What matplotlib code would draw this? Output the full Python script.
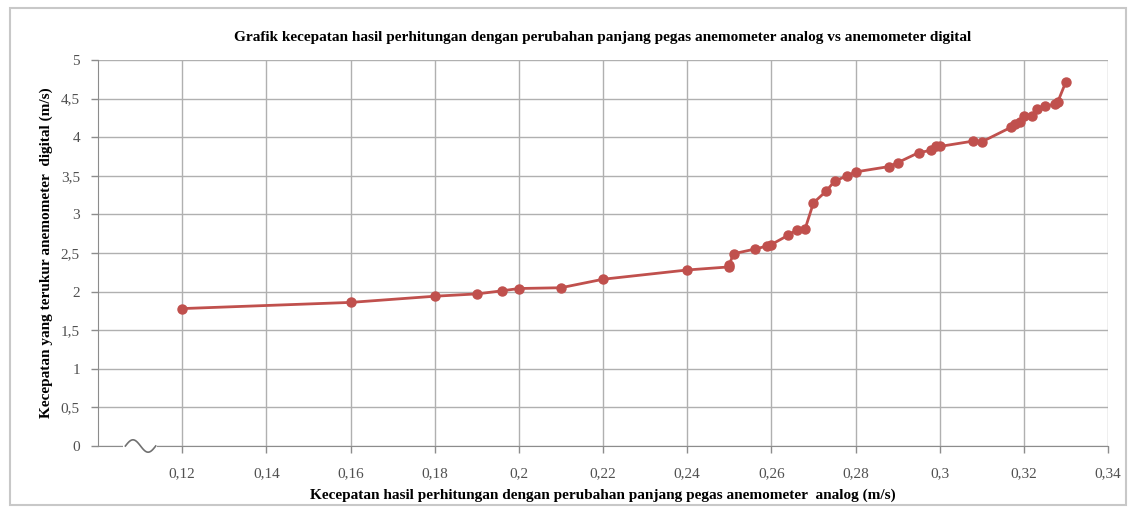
import numpy as np
import matplotlib.pyplot as plt
from matplotlib.patches import Rectangle

# analog (x) vs digital (y) wind speed, m/s
analog = [0.12, 0.16, 0.18, 0.19, 0.196, 0.20, 0.21, 0.22, 0.24, 0.25, 0.25,
          0.251, 0.256, 0.259, 0.260, 0.264, 0.266, 0.268, 0.270, 0.273, 0.275,
          0.278, 0.280, 0.288, 0.290, 0.295, 0.298, 0.299, 0.300, 0.308, 0.310,
          0.317, 0.318, 0.319, 0.320, 0.322, 0.323, 0.325, 0.3275, 0.328, 0.330]
digital = [1.78, 1.86, 1.94, 1.97, 2.01, 2.04, 2.05, 2.16, 2.28, 2.32, 2.35,
           2.49, 2.55, 2.59, 2.61, 2.73, 2.80, 2.81, 3.15, 3.30, 3.43,
           3.50, 3.55, 3.62, 3.67, 3.80, 3.83, 3.88, 3.88, 3.95, 3.94,
           4.13, 4.17, 4.20, 4.27, 4.27, 4.36, 4.40, 4.43, 4.45, 4.72]

xticks = [0.12, 0.14, 0.16, 0.18, 0.20, 0.22, 0.24, 0.26, 0.28, 0.30, 0.32, 0.34]
xlabels = ['0,12', '0,14', '0,16', '0,18', '0,2', '0,22', '0,24', '0,26', '0,28', '0,3', '0,32', '0,34']
yticks = [0, 0.5, 1, 1.5, 2, 2.5, 3, 3.5, 4, 4.5, 5]
ylabels = ['0', '0,5', '1', '1,5', '2', '2,5', '3', '3,5', '4', '4,5', '5']

plt.rcParams['font.family'] = ['Liberation Serif', 'DejaVu Serif']

fig = plt.figure(figsize=(11.36, 5.11), dpi=100)
ax = fig.add_axes([0.0863, 0.1272, 0.8891, 0.7554])

# outer chart frame
fig.patches.append(Rectangle((0.009, 0.012), 0.982, 0.972, transform=fig.transFigure,
                             fill=False, edgecolor='#c8c8c8', linewidth=1.5))

ax.plot(analog, digital, color='#c0504d', linewidth=2, marker='o', markersize=6.5,
        markeredgecolor='#c0504d', markerfacecolor='#c0504d')

ax.set_xlim(0.10, 0.34)
ax.set_ylim(0, 5)
ax.set_xticks(xticks)
ax.set_xticklabels(xlabels)
ax.set_yticks(yticks)
ax.set_yticklabels(ylabels)
ax.grid(True, color='#b0b0b0', linewidth=1)
ax.set_axisbelow(True)
ax.tick_params(colors='#8c8c8c', labelcolor='#505050', labelsize=11, length=5, width=1)
ax.tick_params(axis='x', pad=10)
ax.tick_params(axis='y', pad=8)
for side in ['top', 'right']:
    ax.spines[side].set_visible(False)
for side in ['left', 'bottom']:
    ax.spines[side].set_color('#8c8c8c')

# axis break on the x axis
bx = np.linspace(0.0, 1.0, 60)
xs = 0.1065 + 0.0072 * bx
ys = 0.08 * np.sin(bx * 2 * np.pi)
ax.add_patch(Rectangle((0.106, -0.03), 0.008, 0.06, facecolor='white', edgecolor='none',
                       clip_on=False, zorder=3))
ax.plot(xs, ys, color='#707070', linewidth=1.2, clip_on=False, zorder=4)

ax.set_title('Grafik kecepatan hasil perhitungan dengan perubahan panjang pegas anemometer analog vs anemometer digital',
             fontsize=11, fontweight='bold', pad=14)
ax.set_xlabel('Kecepatan hasil perhitungan dengan perubahan panjang pegas anemometer  analog (m/s)',
              fontsize=11, fontweight='bold', labelpad=6)
ax.set_ylabel('Kecepatan yang terukur anemometer  digital (m/s)', fontsize=11, fontweight='bold', labelpad=6)

fig.savefig('out.png', dpi=100)
